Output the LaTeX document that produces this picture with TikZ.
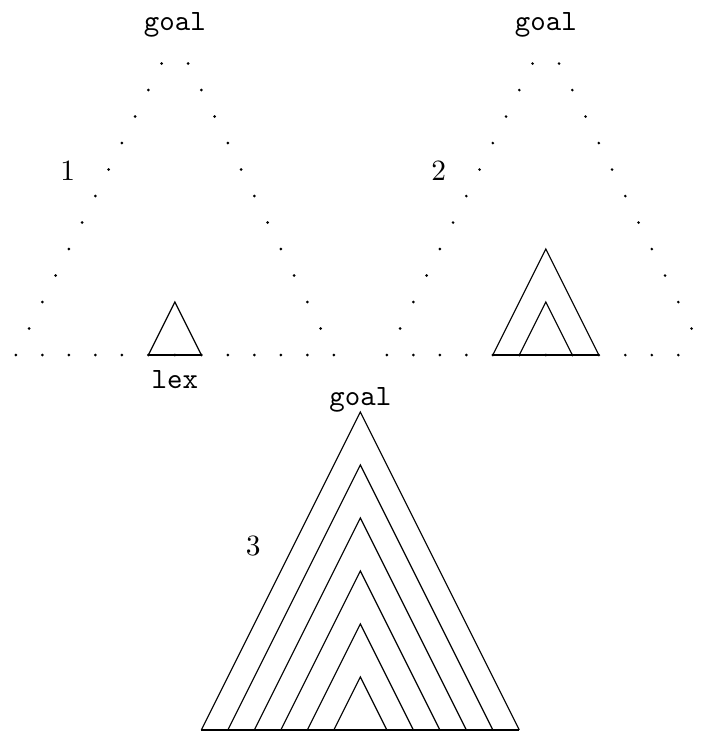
\documentclass[tikz,border=0pt]{standalone}
\usetikzlibrary{positioning}
\tikzset{
  % --- dotted outline of the whole tree ---
  treedot/.style={fill=black},
  % --- parsed subtrees ---
  subtree/.style={draw=black, line width=0.4pt, line join=miter},
  treebase/.style={draw=black, line width=0.9pt},
  catlabel/.style={font=\ttfamily, anchor=base, inner sep=0pt},
  steplabel/.style={font=\normalfont, anchor=base, inner sep=0pt},
}
\newcommand{\dottedtree}{%
  \foreach \x in {-6,...,6} {\fill[treedot] (\x,0) circle (0.5pt);}
  \foreach \h in {1,...,11} {
    \fill[treedot] ({-6+\h/2},\h) circle (0.5pt);
    \fill[treedot] ({6-\h/2},\h) circle (0.5pt);
  }%
}
\begin{document}
\begin{tikzpicture}[x=9pt,y=9pt]
  \useasboundingbox (-6.6,-14.19) rectangle (19.85,13.40);
  \clip (-6.6,-14.19) rectangle (19.85,13.40);
  % step 1: lexical subtree only
  \begin{scope}
    \dottedtree
    \draw[subtree] (-1,0) -- (0,2) -- (1,0);
    \draw[treebase] (-1,0) -- (1,0);
    \node[catlabel] (goalA) at (0,12.26) {goal};
    \node[catlabel] (lexA) at (0,-1.245) {lex};
    \node[steplabel] (numA) at (-4.04,6.6) {1};
  \end{scope}
  % step 2: two nested subtrees
  \begin{scope}[shift={(14,0)}]
    \dottedtree
    \foreach \k in {1,2} {\draw[subtree] (-\k,0) -- (0,2*\k) -- (\k,0);}
    \draw[treebase] (-2,0) -- (2,0);
    \node[catlabel] (goalB) at (0,12.26) {goal};
    \node[steplabel] (numB) at (-4.04,6.6) {2};
  \end{scope}
  % step 3: complete tree
  \begin{scope}[shift={(7,-14.15)}]
    \foreach \k in {1,...,6} {\draw[subtree] (-\k,0) -- (0,2*\k) -- (\k,0);}
    \draw[treebase] (-6,0) -- (6,0);
    \node[catlabel] (goalC) at (0,12.26) {goal};
    \node[steplabel] (numC) at (-4.04,6.6) {3};
  \end{scope}
\end{tikzpicture}
\end{document}
